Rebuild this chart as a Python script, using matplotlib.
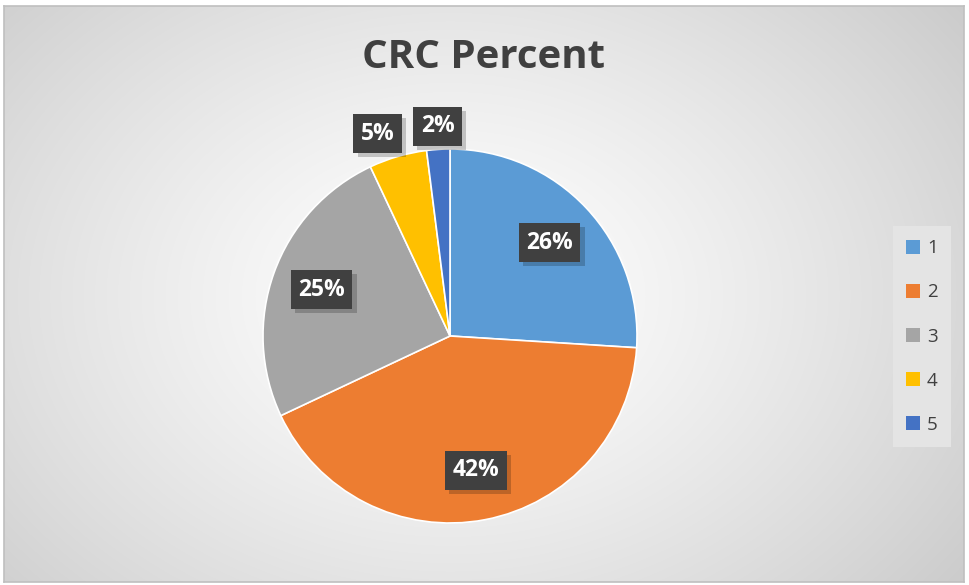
import numpy as np
import matplotlib.pyplot as plt
from matplotlib import patheffects

categories = ['1', '2', '3', '4', '5']
values = [26, 42, 25, 5, 2]
colors = ['#5B9BD5', '#ED7D31', '#A5A5A5', '#FFC000', '#4472C4']
title = 'CRC Percent'

W, H = 969, 585
fig = plt.figure(figsize=(W / 100, H / 100), dpi=100)
fig.patch.set_facecolor('white')

# chart area with radial gray gradient
bg = fig.add_axes([4 / W, 3 / H, 960 / W, 576 / H])
yy, xx = np.mgrid[0:576, 0:960]
cx, cy = 446, 290
d = np.sqrt(((xx - cx) / 560.0) ** 2 + ((yy - cy) / 420.0) ** 2)
shade = np.clip(1.0 - 0.17 * d ** 1.3, 0, 1)
bg.imshow(np.dstack([shade] * 3), aspect='auto', extent=[0, 960, 576, 0])
bg.set_xticks([])
bg.set_yticks([])
for s in bg.spines.values():
    s.set_color('#bfbfbf')
    s.set_linewidth(1.2)

# pie
R = 187
k = 1.3
ax = fig.add_axes([(450 - R * k) / W, (H - 336 - R * k) / H, 2 * R * k / W, 2 * R * k / H])

wedges, _ = ax.pie(values, colors=colors, startangle=90, counterclock=False, radius=1,
                   wedgeprops=dict(edgecolor='white', linewidth=1.2))
ax.set_xlim(-k, k)
ax.set_ylim(-k, k)
ax.axis('off')

total = sum(values)
for w, v in zip(wedges, values):
    ang = np.deg2rad((w.theta1 + w.theta2) / 2)
    c, s = np.cos(ang), np.sin(ang)
    if v / total > 0.1:
        # big slices: label inside
        x, y, ha, va = 0.73 * c, 0.73 * s, 'center', 'center'
    else:
        # small slices: label just outside the rim
        x, y = 1.06 * c, 1.06 * s
        ha = 'center' if abs(c) < 0.2 else ('right' if c < 0 else 'left')
        va = 'bottom' if s > 0 else 'top'
    t = ax.text(x, y, f'{v / total * 100:.0f}%', ha=ha, va=va, fontsize=16.5,
                fontweight='bold', family='Open Sans', color='white',
                bbox=dict(boxstyle='square,pad=0.33', facecolor='#404040', edgecolor='none'))
    t.get_bbox_patch().set_path_effects([
        patheffects.SimplePatchShadow(offset=(3, -3), shadow_rgbFace='black', alpha=0.2),
        patheffects.Normal()])

fig.text(484 / W, 1 - 58 / H, title, ha='center', va='center', fontsize=29,
         fontweight='bold', family='Open Sans', color='#404040')

leg = fig.legend(wedges, categories, loc='center', bbox_to_anchor=(922 / W, 1 - 336.5 / H),
                 frameon=True, fancybox=False, handlelength=0.75,
                 handleheight=0.75, handletextpad=0.35, labelspacing=1.39,
                 borderpad=0.7, labelcolor='#404040', prop={'family': 'Open Sans', 'size': 13.5})
leg.get_frame().set_facecolor('#e4e4e4')
leg.get_frame().set_edgecolor('none')
leg.get_frame().set_alpha(1)
for h in leg.legend_handles:
    h.set_edgecolor('none')

fig.savefig('out.png', dpi=100, facecolor='white')
